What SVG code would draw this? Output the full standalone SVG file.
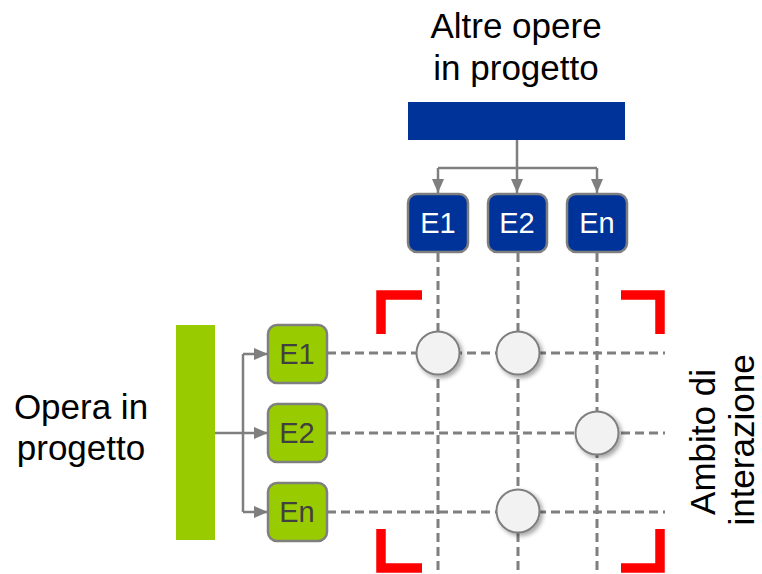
<svg xmlns="http://www.w3.org/2000/svg" width="762" height="574" viewBox="0 0 762 574">
<style>
.lbl{font-family:"Liberation Sans",Arial,sans-serif;font-size:35px;fill:#000}
.bt{font-family:"Liberation Sans",Arial,sans-serif;font-size:29px;text-anchor:middle}
.bbox{fill:#003399;stroke:#7f7f7f;stroke-width:2.5}
.gbox{fill:#99cc00;stroke:#7f7f7f;stroke-width:2.5}
.conn{fill:none;stroke:#7f7f7f;stroke-width:2.5}
.dash{fill:none;stroke:#7f7f7f;stroke-width:3;stroke-dasharray:9 5}
.dot{fill:#f2f2f2;stroke:#7f7f7f;stroke-width:2}
.red{fill:none;stroke:#ff0000;stroke-width:9.5}
</style>
<defs>
<marker id="arr" markerWidth="14" markerHeight="12" refX="14" refY="6" orient="auto" markerUnits="userSpaceOnUse">
<path d="M0,0 L14,6 L0,12 Z" fill="#7f7f7f"/>
</marker>
<filter id="sh" x="-30%" y="-30%" width="170%" height="170%">
<feDropShadow dx="2.5" dy="2.5" stdDeviation="2" flood-color="#000" flood-opacity="0.35"/>
</filter>
</defs>
<rect width="762" height="574" fill="#fff"/>

<g id="grid">
<path class="dash" d="M327,353 H665 M327,433 H665 M327,512 H665"/>
<path class="dash" d="M438,253 V574 M518,253 V574 M597,253 V574"/>
</g>

<g id="connectors">
<path class="conn" d="M517,140 V168 M438,168 H597"/>
<path class="conn" d="M438,168 V193" marker-end="url(#arr)"/>
<path class="conn" d="M517,168 V193" marker-end="url(#arr)"/>
<path class="conn" d="M597,168 V193" marker-end="url(#arr)"/>
<path class="conn" d="M215,433 H243 M243,354 V512"/>
<path class="conn" d="M243,354 H268" marker-end="url(#arr)"/>
<path class="conn" d="M243,433 H268" marker-end="url(#arr)"/>
<path class="conn" d="M243,512 H268" marker-end="url(#arr)"/>
</g>

<g id="altre-opere">
<text class="lbl" x="516" y="38" text-anchor="middle">Altre opere</text>
<text class="lbl" x="516" y="80" text-anchor="middle">in progetto</text>
<rect x="408" y="102" width="217" height="38" fill="#003399"/>
</g>

<g id="opera">
<text class="lbl" x="81" y="419" text-anchor="middle">Opera in</text>
<text class="lbl" x="81" y="460" text-anchor="middle">progetto</text>
<rect x="176" y="325" width="39" height="215" fill="#99cc00"/>
</g>

<g id="bE1"><rect class="bbox" x="408" y="194" width="60" height="58" rx="9"/><text class="bt" x="438" y="233" fill="#fff">E1</text></g>
<g id="bE2"><rect class="bbox" x="488" y="194" width="59" height="58" rx="9"/><text class="bt" x="517" y="233" fill="#fff">E2</text></g>
<g id="bEn"><rect class="bbox" x="567" y="194" width="60" height="58" rx="9"/><text class="bt" x="597" y="233" fill="#fff">En</text></g>

<g id="gE1"><rect class="gbox" x="268" y="325" width="59" height="58" rx="9"/><text class="bt" x="297" y="364" fill="#404040">E1</text></g>
<g id="gE2"><rect class="gbox" x="268" y="404" width="59" height="58" rx="9"/><text class="bt" x="297" y="443" fill="#404040">E2</text></g>
<g id="gEn"><rect class="gbox" x="268" y="483" width="59" height="58" rx="9"/><text class="bt" x="297" y="522" fill="#404040">En</text></g>

<g id="interactions" filter="url(#sh)">
<circle class="dot" cx="438" cy="353" r="21.5"/>
<circle class="dot" cx="518" cy="353" r="21.5"/>
<circle class="dot" cx="597" cy="433" r="21.5"/>
<circle class="dot" cx="518" cy="511" r="21.5"/>
</g>

<g id="ambito">
<path class="red" d="M381,334 V295 H422"/>
<path class="red" d="M621,295 H660 V334"/>
<path class="red" d="M381,529 V568 H422"/>
<path class="red" d="M621,568 H660 V529"/>
<text class="lbl" transform="translate(715,442) rotate(-90)" text-anchor="middle">Ambito di</text>
<text class="lbl" transform="translate(754,440) rotate(-90)" text-anchor="middle">interazione</text>
</g>
</svg>
